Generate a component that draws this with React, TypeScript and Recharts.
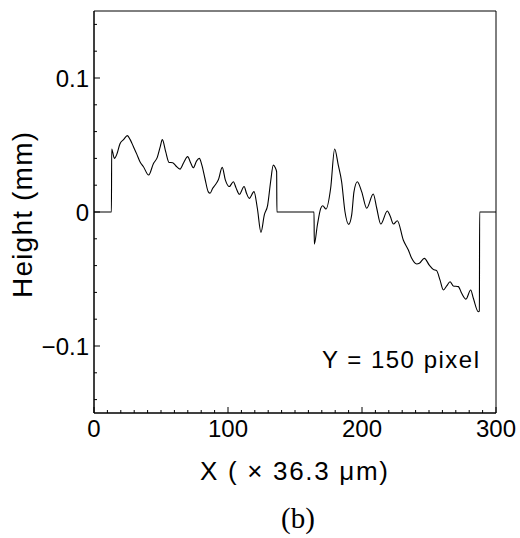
import { LineChart, Line, XAxis, YAxis, ReferenceArea } from "recharts";

// profile along Y = 150 pixel
const xPos = [
  0, 13.0, 13.2, 15.2, 17, 19.4, 22, 24.9, 27, 29.3, 32, 34.3, 36.8, 40.8, 44.3, 47.3, 49.5, 51.0,
  53.5, 56.0, 58.7, 61, 64.2, 67, 69.9, 72, 74.1, 76.5, 78.6, 80.5, 82.8, 85.3, 86.6, 88.5, 90.3,
  92.8, 95.7, 98, 101, 104, 106, 108.5, 112, 113.8, 115.9, 119.4, 121.9, 124.6, 127.1, 129.6,
  131.8, 133.8, 135.3, 136.3, 136.5, 164.2, 164.4, 166.7, 169.2, 170.7, 173.1, 176.6, 179.6,
  182.3, 184.8, 187.3, 190.1, 192.3, 194, 196.5, 199.8, 203.5, 208.4, 211, 214, 218.9, 221,
  223.5, 226.4, 230.8, 234.6, 237.1, 240.8, 242.8, 246.5, 250.2, 253.2, 255.7, 258.2, 260.7,
  263.2, 265.7, 268.1, 271.9, 274.4, 277.6, 281.1, 283.1, 286.8, 287.6, 287.8, 300,
];
const heights = [
  0, 0, 0.047, 0.04, 0.043, 0.051, 0.054, 0.057, 0.054, 0.049, 0.043, 0.0375, 0.034, 0.0276, 0.036,
  0.041, 0.049, 0.054, 0.045, 0.037, 0.0368, 0.0345, 0.032, 0.037, 0.0413, 0.037, 0.033, 0.038,
  0.04, 0.035, 0.025, 0.015, 0.014, 0.0175, 0.02, 0.024, 0.0333, 0.024, 0.019, 0.0226, 0.018,
  0.0132, 0.019, 0.014, 0.0102, 0.0152, 0.0028, -0.0152, -0.0022, 0.0052, 0.0226, 0.035, 0.033,
  0.03, 0, 0, -0.024, -0.0097, 0.0027, 0.0047, 0.0022, 0.0177, 0.047, 0.035, 0.0226, 0.0002,
  -0.0092, -0.0022, 0.015, 0.0226, 0.015, 0.0028, 0.0134, 0.0028, -0.009, 0.0007, -0.003, -0.009,
  -0.0065, -0.0209, -0.0284, -0.0346, -0.0388, -0.0383, -0.0346, -0.0396, -0.0428, -0.0438,
  -0.0507, -0.0582, -0.0552, -0.052, -0.0552, -0.0557, -0.0607, -0.065, -0.0582, -0.0644,
  -0.0744, -0.074, 0, 0,
];

const xTicks = [
  0, 10, 20, 30, 40, 50, 60, 70, 80, 90, 100, 110, 120, 130, 140, 150, 160, 170, 180, 190, 200,
  210, 220, 230, 240, 250, 260, 270, 280, 290, 300,
];
const xLabels = [0, 100, 200, 300];
const yTicks = [
  -0.14, -0.12, -0.1, -0.08, -0.06, -0.04, -0.02, 0, 0.02, 0.04, 0.06, 0.08, 0.1, 0.12, 0.14,
];
const yLabels = [-0.1, 0, 0.1];

const data = xPos.map((x, i) => ({ x, h: heights[i] }));

const W = 520;
const H = 538;
const PL = 94; // plot left
const PR = 496;
const PT = 11;
const PB = 413;
const FONT = "'Liberation Sans', Arial, sans-serif";

const fmtY = (v: number) => (v < 0 ? "\u2212" + Math.abs(v) : String(v));

function XTick(props: any) {
  const { x, payload } = props;
  const v = payload.value;
  const major = xLabels.some((l) => Math.abs(l - v) < 1e-6);
  return (
    <g>
      <line x1={x} x2={x} y1={PB} y2={PB - (major ? 6 : 3)} stroke="#000" />
      {major && (
        <text x={x} y={437} textAnchor="middle" fontSize={24} fontFamily={FONT} fill="#000">
          {v}
        </text>
      )}
    </g>
  );
}

function YTick(props: any) {
  const { y, payload } = props;
  const v = payload.value;
  const major = yLabels.some((l) => Math.abs(l - v) < 1e-6);
  return (
    <g>
      <line x1={PL} x2={PL + (major ? 6 : 3)} y1={y} y2={y} stroke="#000" />
      {major && (
        <text x={PL - 5} y={y + 8.6} textAnchor="end" fontSize={24} fontFamily={FONT} fill="#000">
          {fmtY(Math.round(v * 10) / 10)}
        </text>
      )}
    </g>
  );
}

export default function App() {
  return (
    <div style={{ position: "absolute", left: 0, top: 0, width: W, height: H, background: "#fff" }}>
      <LineChart
        width={W}
        height={H}
        data={data}
        margin={{ top: PT, right: W - PR, left: 0, bottom: 0 }}
      >
        <XAxis
          dataKey="x"
          type="number"
          domain={[0, 300]}
          ticks={xTicks}
          interval={0}
          height={H - PB}
          tickLine={false}
          axisLine={{ stroke: "#000" }}
          tick={XTick}
          allowDataOverflow
        />
        <YAxis
          type="number"
          domain={[-0.15, 0.15]}
          ticks={yTicks}
          interval={0}
          width={PL}
          tickLine={false}
          axisLine={{ stroke: "#000" }}
          tick={YTick}
          allowDataOverflow
        />
        <ReferenceArea x1={0} x2={300} y1={-0.15} y2={0.15} fill="none" stroke="#000" strokeWidth={1} />
        <Line
          type="monotone"
          dataKey="h"
          stroke="#000"
          strokeWidth={1.1}
          dot={false}
          isAnimationActive={false}
        />
      </LineChart>
      <svg
        width={W}
        height={H}
        style={{ position: "absolute", left: 0, top: 0, pointerEvents: "none" }}
      >
        <text
          transform="translate(32,215) rotate(-90)"
          textAnchor="middle"
          fontSize={28}
          textLength={166}
          lengthAdjust="spacing"
          fontFamily={FONT}
          fill="#000"
        >
          Height (mm)
        </text>
        <text
          x={294}
          y={480}
          textAnchor="middle"
          fontSize={26}
          textLength={188}
          lengthAdjust="spacing"
          fontFamily={FONT}
          fill="#000"
        >
          X ( × 36.3 μm)
        </text>
        <text
          x={479}
          y={368}
          textAnchor="end"
          fontSize={24}
          textLength={157}
          lengthAdjust="spacing"
          fontFamily={FONT}
          fill="#000"
        >
          Y = 150 pixel
        </text>
        <text
          x={298}
          y={528}
          textAnchor="middle"
          fontSize={29}
          fontFamily="'Liberation Serif', 'Times New Roman', serif"
          fill="#000"
        >
          (b)
        </text>
      </svg>
    </div>
  );
}
